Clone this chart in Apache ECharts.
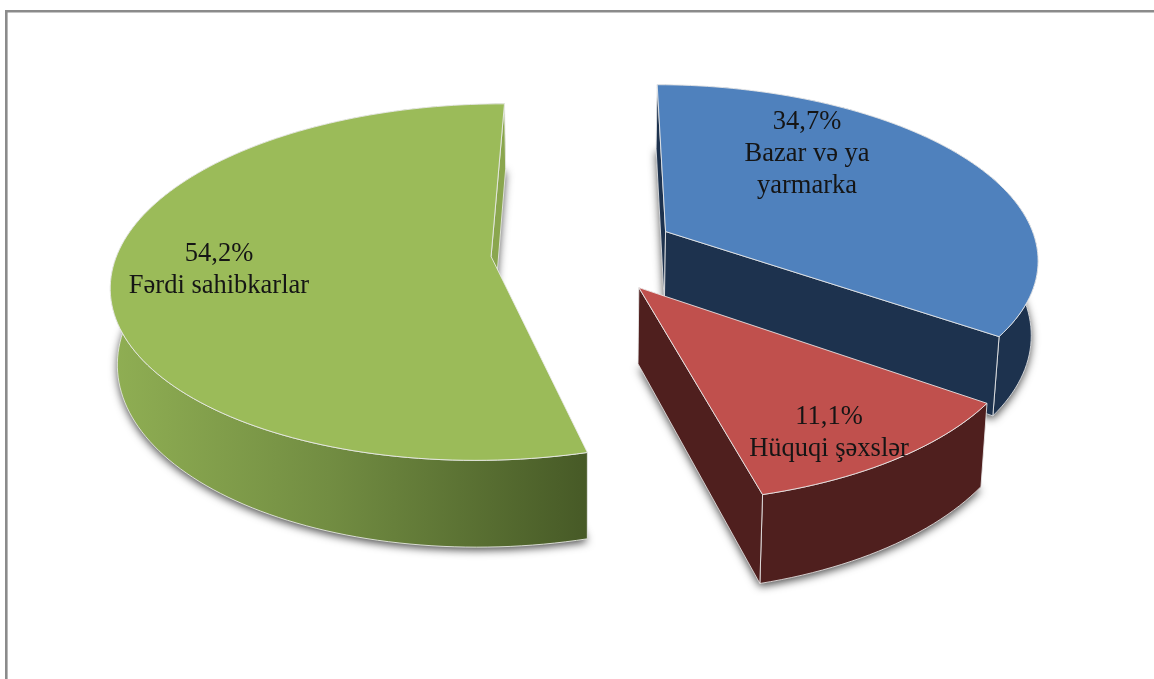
<!DOCTYPE html>
<html><head><meta charset="utf-8">
<script src="https://cdn.jsdelivr.net/npm/echarts@6/dist/echarts.min.js"></script>
<style>html,body{margin:0;padding:0;background:#fff}#c{width:1154px;height:679px}</style>
</head><body><div id="c"></div>
<script>
const categories = ['Bazar və ya\nyarmarka', 'Hüquqi şəxslər', 'Fərdi sahibkarlar'];
const values = [34.7, 11.1, 54.2];
const valueLabels = ['34,7%', '11,1%', '54,2%'];
const topColors = ['#4f81bd', '#c0504d', '#9bbb59'];
const wallColors = ['#1d324e', '#4f1f1e', '#8aa64e'];

// view of the tilted pie
const START_DEG = 0.3, EXPLODE = 0.25;
const CX = 584, CY = 251, RX = 373, RY = 173, PERSP = 0.143, DEPTH = 74, BASE_SHRINK = 0.985;
const LABEL_ANCHORS = [[807, 122], [829, 417], [219, 254]];
const LINE_H = 32;
const total = values.reduce((a, b) => a + b, 0);

function project(X, Z, down) {
  const f = 1 / (1 - PERSP * Z);
  const s = down ? BASE_SHRINK : 1;
  return [CX + X * RX * f * s, CY + Z * RY * f + (down ? DEPTH * f : 0)];
}
function cross(o, a, b) {
  return (a[0] - o[0]) * (b[1] - o[1]) - (a[1] - o[1]) * (b[0] - o[0]);
}
function renderSlice(params, api) {
  const i = params.dataIndex;
  let before = 0;
  for (let j = 0; j < i; j++) before += values[j];
  const a0 = START_DEG + before / total * 360;
  const a1 = a0 + api.value(0) / total * 360;
  const rad = d => d * Math.PI / 180;
  const mid = rad((a0 + a1) / 2);
  const ox = EXPLODE * Math.sin(mid), oz = -EXPLODE * Math.cos(mid);
  const rimTop = [], rimBot = [];
  const n = Math.ceil((a1 - a0) / 1.5);
  for (let k = 0; k <= n; k++) {
    const a = rad(a0 + (a1 - a0) * k / n);
    const X = ox + Math.sin(a), Z = oz - Math.cos(a);
    rimTop.push(project(X, Z, false));
    rimBot.push(project(X, Z, true));
  }
  const apexTop = project(ox, oz, false), apexBot = project(ox, oz, true);
  const edge = { stroke: 'rgba(235,235,235,0.85)', lineWidth: 1, lineJoin: 'round' };
  const wallFill = i === 2
    ? { type: 'linear', x: 115, y: 0, x2: 590, y2: 0, global: true,
        colorStops: [{offset: 0, color: '#8fae53'}, {offset: 0.45, color: '#728d42'}, {offset: 1, color: '#465926'}] }
    : wallColors[i];
  const poly = (points, style) => ({ type: 'polygon', shape: { points }, style });
  const children = [
    poly([apexBot, ...rimBot], { fill: wallColors[i], shadowColor: 'rgba(0,0,0,0.7)', shadowBlur: 8, shadowOffsetX: 0, shadowOffsetY: 3 }),
    poly([...rimTop, ...rimBot.slice().reverse()], { fill: wallFill, ...edge })
  ];
  // a radial wall is drawn only when it faces the viewer
  if (cross(apexTop, rimTop[0], apexBot) < 0) {
    children.push(poly([apexTop, rimTop[0], rimBot[0], apexBot], { fill: wallColors[i], ...edge }));
  }
  if (cross(apexTop, rimTop[n], apexBot) > 0) {
    children.push(poly([apexTop, rimTop[n], rimBot[n], apexBot], { fill: wallColors[i], ...edge }));
  }
  children.push(poly([apexTop, ...rimTop], { fill: topColors[i], ...edge }));
  const lines = [valueLabels[i], ...categories[i].split('\n')];
  lines.forEach((t, l) => children.push({
    type: 'text',
    style: { text: t, x: LABEL_ANCHORS[i][0], y: LABEL_ANCHORS[i][1] + l * LINE_H,
      fill: '#151515', font: '26.5px "Liberation Serif"', align: 'center', verticalAlign: 'middle' }
  }));
  return { type: 'group', children };
}
const chart = echarts.init(document.getElementById('c'), null, { renderer: 'canvas' });
chart.setOption({
  animation: false,
  backgroundColor: '#ffffff',
  graphic: [{ type: 'polyline', shape: { points: [[6.3, 679], [6.3, 11.3], [1154, 11.3]] },
    style: { stroke: '#8b8b8b', lineWidth: 2.6, fill: null } }],
  series: [{
    type: 'custom', coordinateSystem: 'none', renderItem: renderSlice,
    data: values.map((v, i) => ({ name: categories[i], value: [v] }))
  }]
});
</script></body></html>
